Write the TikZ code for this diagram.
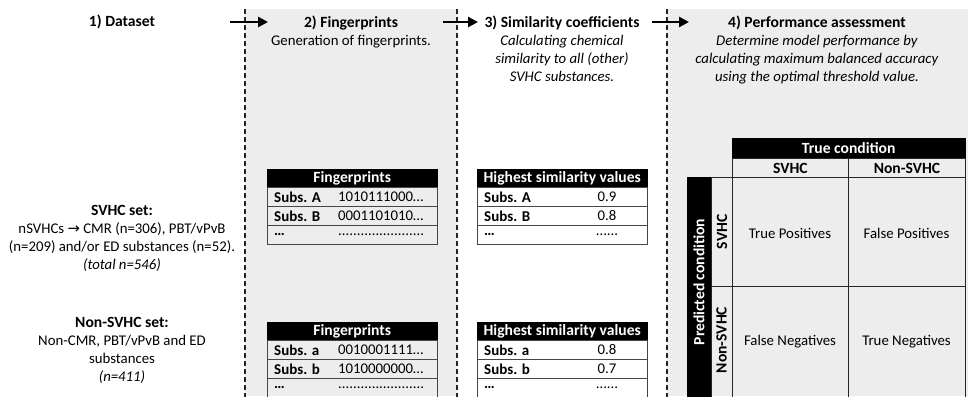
\documentclass[tikz,border=0pt]{standalone}
\usepackage{fontspec}
\setmainfont{Carlito}
\newfontfamily\dejavu{DejaVu Sans}
\usetikzlibrary{arrows.meta}
\definecolor{bgray}{RGB}{237,237,237}
\definecolor{lgray}{RGB}{70,70,70}
\newcommand\hb[1]{{\fontsize{15.6}{18}\selectfont\bfseries #1}}
\begin{document}
\begin{tikzpicture}[x=1pt,y=-1pt,
  every node/.style={font=\fontsize{14.8}{18}\selectfont, inner sep=0pt},
  bold/.style={font=\fontsize{15.6}{18}\selectfont\bfseries},
  dline/.style={draw=black!85, line width=1.3pt, dash pattern=on 5pt off 3pt},
  bigarrow/.style={line width=2.6pt, -{Triangle[length=10pt,width=10pt]}},
  thead/.style={draw=black, fill=black, text=white, font=\fontsize{15.6}{18}\selectfont\bfseries, minimum width=170pt, minimum height=18.5pt, anchor=north west},
  trow/.style={draw=lgray, line width=0.8pt, minimum width=170pt, minimum height=19pt, anchor=north west},
  lab/.style={anchor=west, font=\fontsize{15}{18}\selectfont\bfseries},
  val/.style={anchor=west},
  cval/.style={anchor=center},
  cell/.style={draw=black!85, line width=0.9pt, anchor=north west}
]
\useasboundingbox (0,0) rectangle (968,396);
\clip (0,0) rectangle (968,396);
% backgrounds
\fill[bgray] (245,9) rectangle (457,396);
\fill[bgray] (667,9) rectangle (968,396);
\draw[dline] (245,9) -- (245,400);
\draw[dline] (457,9) -- (457,400);
\draw[dline] (667,9) -- (667,400);
% arrows
\coordinate (a1s) at (230,22); \coordinate (a1e) at (268,22);
\coordinate (a2s) at (443,22); \coordinate (a2e) at (478,22);
\coordinate (a3s) at (652,22); \coordinate (a3e) at (689,22);
\draw[bigarrow] (a1s) -- (a1e);
\draw[bigarrow] (a2s) -- (a2e);
\draw[bigarrow] (a3s) -- (a3e);
% headers
\node[bold] (h1) at (122,22) {1) Dataset};
\node[align=center, anchor=north] (h2) at (351,16) {\hb{2) Fingerprints}\\Generation of fingerprints.};
\node[align=center, anchor=north] (h3) at (562,16) {\hb{3) Similarity coefficients}\\\textit{Calculating chemical}\\\textit{similarity to all (other)}\\\textit{SVHC substances.}};
\node[align=center, anchor=north] (h4) at (817,16) {\hb{4) Performance assessment}\\\textit{Determine model performance by}\\\textit{calculating maximum balanced accuracy}\\\textit{using the optimal threshold value.}};
% left texts
\node[align=center, anchor=north] (svhc) at (122,205) {\hb{SVHC set:}\\nSVHCs {\dejavu →} CMR (n=306), PBT/vPvB\\(n=209) and/or ED substances (n=52).\\\textit{(total n=546)}};
\node[align=center, anchor=north] (nsvhc) at (122,317) {\hb{Non-SVHC set:}\\Non-CMR, PBT/vPvB and ED\\substances\\\textit{(n=411)}};
% fingerprint table 1
\node[thead] (fa-h) at (267,168.5) {Fingerprints};
\node[trow] (fa-1) at (267,187) {};
\node[trow] (fa-2) at (267,206) {};
\node[trow] (fa-3) at (267,225) {};
\node[lab] at ([xshift=7pt]fa-1.west) {Subs. A};
\node[val] at ([xshift=71pt]fa-1.west) {1010111000…};
\node[lab] at ([xshift=7pt]fa-2.west) {Subs. B};
\node[val] at ([xshift=71pt]fa-2.west) {0001101010…};
\node[lab] at ([xshift=7pt]fa-3.west) {…};
\node[val] at ([xshift=71pt]fa-3.west) {.......................};
% fingerprint table 2
\node[thead] (fb-h) at (267,321.5) {Fingerprints};
\node[trow] (fb-1) at (267,340) {};
\node[trow] (fb-2) at (267,359) {};
\node[trow] (fb-3) at (267,378) {};
\node[lab] at ([xshift=7pt]fb-1.west) {Subs. a};
\node[val] at ([xshift=71pt]fb-1.west) {0010001111…};
\node[lab] at ([xshift=7pt]fb-2.west) {Subs. b};
\node[val] at ([xshift=71pt]fb-2.west) {1010000000…};
\node[lab] at ([xshift=7pt]fb-3.west) {…};
\node[val] at ([xshift=71pt]fb-3.west) {.......................};
% similarity table 1
\node[thead] (sa-h) at (477,168.5) {Highest similarity values};
\node[trow] (sa-1) at (477,187) {};
\node[trow] (sa-2) at (477,206) {};
\node[trow] (sa-3) at (477,225) {};
\node[lab] at ([xshift=7pt]sa-1.west) {Subs. A};
\node[cval] at ([xshift=130pt]sa-1.west) {0.9};
\node[lab] at ([xshift=7pt]sa-2.west) {Subs. B};
\node[cval] at ([xshift=130pt]sa-2.west) {0.8};
\node[lab] at ([xshift=7pt]sa-3.west) {…};
\node[cval] at ([xshift=130pt]sa-3.west) {......};
% similarity table 2
\node[thead] (sb-h) at (477,321.5) {Highest similarity values};
\node[trow] (sb-1) at (477,340) {};
\node[trow] (sb-2) at (477,359) {};
\node[trow] (sb-3) at (477,378) {};
\node[lab] at ([xshift=7pt]sb-1.west) {Subs. a};
\node[cval] at ([xshift=130pt]sb-1.west) {0.8};
\node[lab] at ([xshift=7pt]sb-2.west) {Subs. b};
\node[cval] at ([xshift=130pt]sb-2.west) {0.7};
\node[lab] at ([xshift=7pt]sb-3.west) {…};
\node[cval] at ([xshift=130pt]sb-3.west) {......};
% confusion matrix
\node[thead, minimum width=233pt, minimum height=20pt] (tc) at (732,138) {True condition};
\node[cell, minimum width=116pt, minimum height=19pt] (c1) at (732,158) {\hb{SVHC}};
\node[cell, minimum width=117pt, minimum height=19pt] (c2) at (848,158) {\hb{Non-SVHC}};
\node[fill=black, draw=black, minimum width=24pt, minimum height=230pt, anchor=north west] (pc) at (687,177) {};
\node[rotate=90, text=white, font=\fontsize{15.6}{18}\selectfont\bfseries] (pct) at (699,282) {Predicted condition};
\node[cell, minimum width=21pt, minimum height=109pt] (r1) at (711,177) {};
\node[cell, minimum width=21pt, minimum height=125pt] (r2) at (711,286) {};
\node[rotate=90, font=\fontsize{15.6}{18}\selectfont\bfseries] at (r1.center) {SVHC};
\node[rotate=90, font=\fontsize{15.6}{18}\selectfont\bfseries] at (721.5,340) {Non-SVHC};
\node[cell, minimum width=116pt, minimum height=109pt] (tp) at (732,177) {};
\node[cell, minimum width=117pt, minimum height=109pt] (fp) at (848,177) {};
\node[cell, minimum width=116pt, minimum height=125pt] (fn) at (732,286) {};
\node[cell, minimum width=117pt, minimum height=125pt] (tn) at (848,286) {};
\node at (790,233) {True Positives};
\node at (906.5,233) {False Positives};
\node at (790,342) {False Negatives};
\node at (906.5,342) {True Negatives};
\end{tikzpicture}
\end{document}
